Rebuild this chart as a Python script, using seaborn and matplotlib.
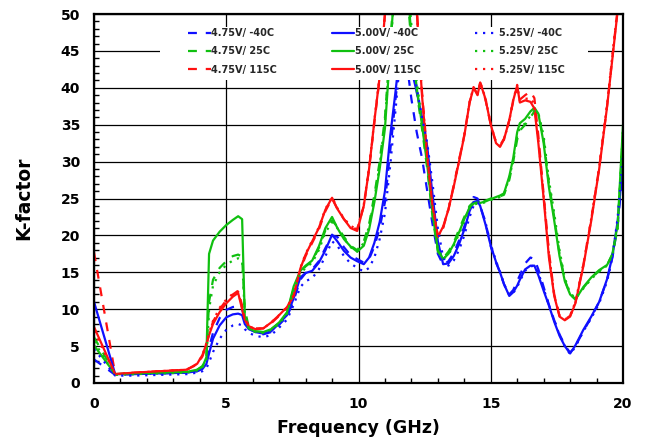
import numpy as np
import pandas as pd
import matplotlib
matplotlib.use("Agg")
import matplotlib.pyplot as plt
import seaborn as sns
from matplotlib.patches import Rectangle
from matplotlib.ticker import MultipleLocator

# ---------------- data ----------------
freq = [0, 0.8, 1.5, 2.5, 3.5, 3.9, 4.1,
        4.25, 4.35, 4.5, 4.75, 5.0, 5.25, 5.45, 5.6, 5.7, 5.85,
        6.1, 6.4, 6.7, 7.0, 7.3, 7.55, 7.8, 8.0, 8.25, 8.5, 8.75,
        9.0, 9.2, 9.45, 9.7, 9.95, 10.2, 10.4, 10.6, 10.8, 11.0, 11.2, 11.4, 11.6, 11.8,
        12.0, 12.2, 12.4, 12.6, 12.8, 13.0, 13.2, 13.4, 13.6, 13.8, 14.0,
        14.2, 14.35, 14.5, 14.6, 14.8, 15.0, 15.2, 15.35, 15.5, 15.7, 15.85, 16.0, 16.1,
        16.3, 16.5, 16.65, 16.8, 17.0, 17.2, 17.4, 17.6, 17.8, 18.0, 18.2,
        18.5, 18.8, 19.1, 19.4, 19.6, 19.8, 20.0]

k_475_m40 = [3.2, 1.1, 1.2, 1.3, 1.4, 1.6, 2.0,
             3.0, 4.8, 6.8, 8.8, 9.9, 10.3, 10.4, 10.0, 8.5, 7.4,
             6.9, 6.6, 6.9, 7.9, 9.0, 11.2, 14.0, 14.9, 15.4, 16.5, 18.3,
             20.0, 19.8, 18.4, 17.3, 16.8, 16.3, 16.8, 18.5, 21.0, 24.5, 31.5, 38.5, 44.5, 44.0,
             38.5, 34.0, 30.5, 26.0, 21.5, 17.5, 16.0, 16.5, 17.6, 19.3, 21.2,
             23.8, 25.2, 25.0, 24.0, 21.8, 18.5, 16.3, 15.0, 13.4, 12.0, 12.6, 13.8, 14.6,
             16.2, 17.0, 16.8, 15.4, 13.0, 10.6, 8.5, 6.6, 5.1, 4.1, 5.0,
             7.0, 8.9, 11.0, 14.0, 17.0, 21.5, 29.0]
k_475_25 = [6.2, 1.2, 1.3, 1.4, 1.5, 1.8, 2.3,
            3.6, 11.0, 14.0, 15.6, 16.5, 17.2, 17.4, 17.1, 10.0, 7.6,
            7.0, 6.9, 7.3, 8.1, 9.5, 12.8, 15.0, 15.8, 16.5, 18.3, 20.7,
            22.0, 21.2, 19.8, 18.6, 18.0, 19.2, 21.5, 25.5, 30.0, 36.0, 46.0, 56.0, 58.0, 55.0,
            46.0, 39.5, 34.5, 29.0, 22.5, 17.8, 16.9, 17.8, 19.0, 20.8, 22.5,
            24.0, 24.5, 24.6, 24.5, 24.7, 25.0, 25.2, 25.3, 25.5, 27.5, 30.0, 33.0, 34.2,
            35.0, 36.0, 36.8, 36.4, 33.0, 27.0, 22.5, 17.5, 14.0, 12.0, 11.4,
            12.9, 14.2, 15.2, 16.0, 17.4, 21.0, 34.0]
k_475_115 = [17.7, 1.2, 1.4, 1.6, 1.8, 2.5, 3.6,
             5.2, 6.6, 8.3, 10.0, 11.2, 12.0, 12.5, 10.5, 8.8, 7.8,
             7.4, 7.4, 8.1, 9.1, 10.2, 11.6, 15.3, 17.2, 19.0, 20.8, 23.3,
             25.0, 23.6, 22.2, 21.2, 20.8, 24.0, 29.0, 35.3, 41.3, 50.0, 60.0, 65.0, 66.0, 64.0,
             58.5, 51.0, 39.5, 31.0, 24.2, 19.8, 21.0, 23.5, 26.8, 30.2, 33.6,
             38.0, 40.0, 39.2, 40.7, 38.4, 35.0, 32.6, 32.2, 33.1, 35.6, 38.2, 40.0, 38.4,
             39.0, 39.5, 38.6, 33.5, 25.5, 17.8, 12.0, 9.1, 8.6, 9.1, 10.9,
             16.0, 22.2, 29.2, 37.6, 44.2, 50.8, 62.0]

k_500_m40 = [11.0, 1.2, 1.2, 1.3, 1.4, 1.6, 1.9,
             2.6, 4.0, 6.0, 7.8, 8.9, 9.3, 9.4, 9.2, 8.0, 7.3,
             6.9, 6.7, 7.0, 8.1, 9.2, 11.5, 14.3, 14.9, 15.2, 16.3, 18.0,
             20.1, 19.2, 17.9, 17.0, 16.5, 16.1, 17.0, 19.0, 21.8, 26.0, 33.5, 39.5, 46.0, 46.5,
             42.5, 39.5, 36.0, 32.0, 25.5, 19.2, 16.1, 16.2, 17.2, 18.8, 20.8,
             23.3, 24.5, 24.7, 24.0, 21.5, 18.6, 16.4, 15.0, 13.4, 11.8, 12.3, 13.2, 14.0,
             15.4, 15.9, 15.9, 14.6, 12.5, 10.5, 8.3, 6.4, 5.0, 4.0, 5.1,
             7.2, 9.0, 11.0, 14.1, 17.2, 22.0, 30.0]
k_500_25 = [5.1, 1.2, 1.3, 1.4, 1.5, 1.8, 2.2,
            3.5, 17.5, 19.3, 20.5, 21.4, 22.1, 22.6, 22.2, 9.0, 7.4,
            7.0, 6.9, 7.3, 8.2, 9.6, 13.1, 15.2, 15.9, 16.6, 18.5, 21.0,
            22.5, 21.0, 19.5, 18.5, 17.8, 18.6, 20.8, 24.5, 29.0, 34.5, 45.0, 56.0, 58.0, 56.0,
            47.0, 40.0, 35.0, 29.5, 23.0, 18.0, 16.8, 17.5, 18.8, 20.4, 22.2,
            23.8, 24.3, 24.5, 24.4, 24.6, 24.9, 25.2, 25.4, 25.7, 28.0, 30.5, 34.0, 35.2,
            35.8, 36.8, 37.3, 36.5, 32.5, 26.5, 22.0, 17.2, 13.8, 12.0, 11.3,
            13.0, 14.3, 15.3, 16.0, 17.5, 21.5, 35.0]
k_500_115 = [7.6, 1.2, 1.4, 1.6, 1.8, 2.6, 3.8,
             5.3, 6.5, 8.0, 9.6, 10.8, 11.7, 12.2, 10.0, 8.6, 7.7,
             7.3, 7.4, 8.2, 9.2, 10.3, 11.8, 15.5, 17.4, 19.2, 21.0, 23.5,
             25.1, 23.6, 22.2, 21.0, 20.6, 24.0, 29.0, 35.5, 41.5, 50.0, 60.0, 65.0, 66.0, 64.0,
             58.0, 50.5, 39.0, 30.5, 24.0, 19.8, 21.2, 23.5, 26.6, 30.0, 33.5,
             38.0, 40.0, 39.0, 40.7, 38.5, 35.0, 32.5, 32.0, 33.0, 35.6, 38.3, 40.3, 38.0,
             38.3, 38.1, 37.2, 32.5, 25.0, 17.0, 11.8, 9.0, 8.5, 9.0, 10.8,
             15.8, 22.0, 29.0, 37.5, 44.0, 50.5, 62.0]

k_525_m40 = [4.6, 1.0, 1.0, 1.1, 1.2, 1.4, 1.6,
             2.0, 2.8, 4.2, 6.0, 7.2, 7.8, 8.0, 7.8, 7.3, 6.8,
             6.4, 6.2, 6.5, 7.5, 8.6, 10.6, 13.0, 13.8, 14.2, 15.4, 17.2,
             19.2, 18.6, 17.2, 16.2, 15.6, 15.1, 15.6, 17.0, 19.5, 23.0, 29.5, 37.0, 45.0, 47.0,
             44.0, 40.0, 36.0, 32.5, 27.0, 21.0, 17.0, 15.9, 16.6, 18.0, 20.0,
             22.5, 24.0, 24.5, 24.0, 21.8, 18.8, 16.5, 15.1, 13.4, 11.9, 12.2, 13.0, 13.8,
             15.2, 15.8, 15.9, 14.9, 12.8, 10.5, 8.5, 6.5, 5.0, 3.9, 4.9,
             7.0, 8.8, 10.8, 13.8, 17.0, 22.5, 31.0]
k_525_25 = [5.6, 1.1, 1.2, 1.3, 1.4, 1.7, 2.1,
            3.2, 10.0, 13.2, 15.0, 16.0, 16.6, 16.9, 16.6, 9.5, 7.4,
            6.9, 6.8, 7.2, 8.0, 9.4, 12.6, 14.8, 15.6, 16.3, 18.0, 20.4,
            21.8, 21.0, 19.6, 18.4, 17.8, 19.0, 21.2, 25.0, 29.5, 35.5, 45.0, 55.0, 59.0, 57.0,
            48.5, 41.0, 35.5, 30.0, 23.5, 18.2, 16.8, 17.4, 18.6, 20.2, 22.0,
            23.7, 24.2, 24.3, 24.3, 24.5, 24.8, 25.0, 25.2, 25.6, 27.8, 30.2, 33.5, 34.5,
            35.2, 36.2, 36.9, 36.6, 33.5, 27.5, 23.0, 18.0, 14.2, 12.2, 11.5,
            12.8, 14.1, 15.1, 15.9, 17.3, 21.0, 34.5]
k_525_115 = [7.0, 1.2, 1.4, 1.6, 1.8, 2.6, 3.8,
             5.4, 6.8, 8.4, 10.2, 11.3, 12.1, 12.4, 10.2, 8.7, 7.7,
             7.3, 7.4, 8.2, 9.2, 10.3, 11.9, 15.6, 17.5, 19.3, 21.1, 23.6,
             25.2, 23.7, 22.3, 21.3, 20.8, 24.2, 29.2, 35.6, 41.6, 50.2, 60.0, 65.0, 66.0, 64.0,
             58.5, 50.8, 39.2, 30.8, 24.1, 19.9, 21.1, 23.6, 26.7, 30.1, 33.6,
             38.1, 40.1, 39.1, 40.8, 38.6, 35.1, 32.6, 32.1, 33.0, 35.5, 38.4, 40.4, 38.2,
             38.5, 38.6, 37.8, 33.0, 25.3, 17.6, 11.9, 9.1, 8.6, 9.1, 11.0,
             16.0, 22.3, 29.3, 37.8, 44.5, 51.0, 62.0]

labels = ["4.75V/ -40C", "4.75V/ 25C", "4.75V/ 115C",
          "5.00V/ -40C", "5.00V/ 25C", "5.00V/ 115C",
          "5.25V/ -40C", "5.25V/ 25C", "5.25V/ 115C"]
series = [k_475_m40, k_475_25, k_475_115,
          k_500_m40, k_500_25, k_500_115,
          k_525_m40, k_525_25, k_525_115]
x_ticks = [0, 5, 10, 15, 20]
y_ticks = [0, 5, 10, 15, 20, 25, 30, 35, 40, 45, 50]

# ---------------- styling ----------------
colors = ["#1010ff", "#10c010", "#ff1010"] * 3
styles = [(0, (4, 4))] * 3 + ["-"] * 3 + [(0, (1, 2.6))] * 3

sns.set_theme(style="white")
plt.rcParams["font.family"] = ["DejaVu Sans"]
plt.rcParams["font.weight"] = "bold"

fig = plt.figure(figsize=(6.49, 4.45), dpi=100)
ax = fig.add_axes([94 / 649, 1 - 383 / 445, 529 / 649, 369 / 445])

for lab, vals, c, ls in zip(labels, series, colors, styles):
    assert len(vals) == len(freq), lab
    df = pd.DataFrame({"freq": freq, "K": vals})
    sns.lineplot(data=df, x="freq", y="K", ax=ax, color=c, linestyle=ls,
                 linewidth=1.6, label=lab, sort=False, estimator=None,
                 solid_capstyle="round", dash_capstyle="butt")

ax.set_xlim(0, 20)
ax.set_ylim(0, 50)
ax.set_xticks(x_ticks)
ax.set_yticks(y_ticks)
ax.xaxis.set_minor_locator(MultipleLocator(1))
ax.yaxis.set_minor_locator(MultipleLocator(1))
ax.set_axisbelow(True)
ax.grid(True, which="major", color="black", linewidth=0.9)

for sp in ax.spines.values():
    sp.set_visible(True)
    sp.set_color("black")
    sp.set_linewidth(1.6)

ax.tick_params(which="major", direction="out", length=4, width=1.2,
               color="black", labelsize=10, pad=6, labelcolor="black")
ax.tick_params(which="minor", direction="in", length=3.5, width=1.0,
               color="black", bottom=True, left=True)
for t in ax.get_xticklabels() + ax.get_yticklabels():
    t.set_fontweight("bold")

ax.set_xlabel("Frequency (GHz)", fontsize=12.5, fontweight="bold",
              color="black", labelpad=6)
ax.set_ylabel("K-factor", fontsize=13.5, fontweight="bold",
              color="black", labelpad=20)

# white legend background band
ax.add_patch(Rectangle((0.125, 0.822), 0.808, 0.143, transform=ax.transAxes,
                       facecolor="white", edgecolor="none", zorder=3))

leg = ax.legend(loc="upper left", bbox_to_anchor=(0.178, 0.962), ncol=3,
                frameon=False, fontsize=7, handlelength=2.3,
                handletextpad=0.1, columnspacing=5.6, labelspacing=0.85,
                borderpad=0, borderaxespad=0)
leg.set_zorder(5)
for t in leg.get_texts():
    t.set_fontweight("bold")

fig.savefig("out.png", dpi=100)
